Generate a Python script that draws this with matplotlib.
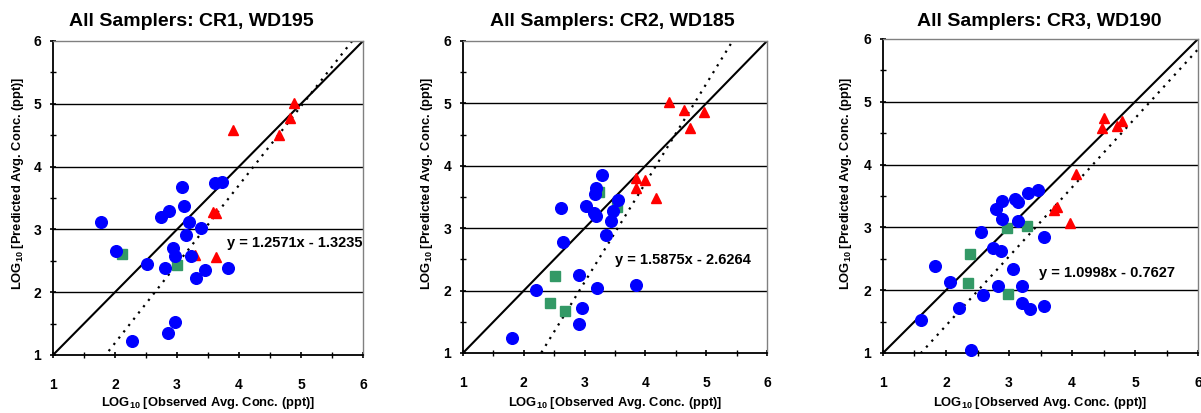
import matplotlib
matplotlib.use("Agg")
import matplotlib.pyplot as plt
from matplotlib.ticker import MultipleLocator

plt.rcParams['font.family'] = ['Liberation Sans', 'DejaVu Sans']
plt.rcParams['font.weight'] = 'bold'
plt.rcParams['mathtext.fontset'] = 'custom'
plt.rcParams['mathtext.rm'] = 'Liberation Sans:bold'
plt.rcParams['mathtext.it'] = 'Liberation Sans:bold'
plt.rcParams['mathtext.bf'] = 'Liberation Sans:bold'

# ---------------- data ----------------
titles = ["All Samplers: CR1, WD195", "All Samplers: CR2, WD185", "All Samplers: CR3, WD190"]
slopes = [1.2571, 1.5875, 1.0998]
intercepts = [-1.3235, -2.6264, -0.7627]
equations = ["y = 1.2571x - 1.3235", "y = 1.5875x - 2.6264", "y = 1.0998x - 0.7627"]

# Panel 1 (CR1)
p1_circle_x = [1.77, 2.02, 2.52, 2.74, 2.87, 2.80, 2.93, 2.97, 3.08, 3.12, 3.19, 3.15, 3.22,
               3.38, 3.30, 3.45, 3.61, 3.73, 3.82, 2.85, 2.96, 2.28]
p1_circle_y = [3.12, 2.66, 2.45, 3.19, 3.30, 2.39, 2.71, 2.57, 3.68, 3.37, 3.11, 2.91, 2.58,
               3.03, 2.23, 2.35, 3.74, 3.76, 2.38, 1.35, 1.52, 1.22]
p1_square_x = [2.12, 3.00]
p1_square_y = [2.61, 2.43]
p1_tri_x = [4.89, 4.83, 4.64, 3.91, 3.58, 3.63, 3.29, 3.63]
p1_tri_y = [5.01, 4.77, 4.51, 4.59, 3.27, 3.26, 2.59, 2.56]

# Panel 2 (CR2)
p2_circle_x = [1.81, 2.20, 2.65, 2.62, 2.91, 2.95, 2.90, 3.20, 3.02, 3.17, 3.18, 3.16, 3.19,
               3.29, 3.35, 3.43, 3.47, 3.55, 3.85]
p2_circle_y = [1.24, 2.01, 2.78, 3.33, 2.25, 1.72, 1.47, 2.04, 3.36, 3.55, 3.64, 3.25, 3.19,
               3.85, 2.89, 3.11, 3.27, 3.45, 2.09]
p2_square_x = [2.52, 2.43, 2.68, 3.23, 3.54]
p2_square_y = [2.23, 1.80, 1.67, 3.58, 3.34]
p2_tri_x = [4.38, 4.64, 4.96, 4.73, 3.85, 4.00, 3.84, 4.17]
p2_tri_y = [5.03, 4.89, 4.86, 4.61, 3.81, 3.78, 3.65, 3.48]

# Panel 3 (CR3)
p3_circle_x = [1.61, 1.82, 2.06, 2.21, 2.39, 2.55, 2.58, 2.75, 2.88, 2.80, 2.89, 2.89, 2.83,
               3.06, 3.10, 3.14, 3.15, 3.21, 3.20, 3.33, 3.30, 3.46, 3.56, 3.56]
p3_circle_y = [1.53, 2.38, 2.13, 1.71, 1.05, 2.92, 1.93, 2.67, 2.62, 3.29, 3.42, 3.14, 2.07,
               2.34, 3.45, 3.41, 3.10, 2.07, 1.79, 1.70, 3.55, 3.60, 2.84, 1.75]
p3_square_x = [2.38, 2.35, 2.97, 3.28, 2.99]
p3_square_y = [2.58, 2.11, 2.99, 3.02, 1.94]
p3_tri_x = [4.50, 4.47, 4.71, 4.80, 4.06, 3.76, 3.72, 3.97]
p3_tri_y = [4.75, 4.58, 4.61, 4.70, 3.85, 3.33, 3.28, 3.07]

panels = [
    (p1_circle_x, p1_circle_y, p1_square_x, p1_square_y, p1_tri_x, p1_tri_y),
    (p2_circle_x, p2_circle_y, p2_square_x, p2_square_y, p2_tri_x, p2_tri_y),
    (p3_circle_x, p3_circle_y, p3_square_x, p3_square_y, p3_tri_x, p3_tri_y),
]

# ---------------- layout ----------------
W, H = 1201, 413
fig = plt.figure(figsize=(W / 100, H / 100), dpi=100)

# (left, right, top, bottom) in pixels
boxes = [(53, 363, 41, 355), (463, 767, 41, 353), (883, 1198, 39, 353)]
title_cx = [191, 612, 1039]
eq_pos = [(3.81, 2.78), (3.50, 2.49), (3.48, 2.28)]
ylab_x = [18, 427, 846]

for i, (box, pdata) in enumerate(zip(boxes, panels)):
    l, r, t, b = box
    ax = fig.add_axes([l / W, (H - b) / H, (r - l) / W, (b - t) / H])
    cx, cy, sx, sy, tx, ty = pdata
    ax.set_xlim(1, 6)
    ax.set_ylim(1, 6)

    for yv in [2, 3, 4, 5]:
        ax.axhline(yv, color='black', lw=1.0, zorder=1)

    ax.plot([1, 6], [1, 6], color='black', lw=1.5, zorder=2)
    ax.plot([1, 6], [slopes[i] * 1 + intercepts[i], slopes[i] * 6 + intercepts[i]],
            color='black', lw=1.6, linestyle=(0, (1, 2.6)), zorder=2)

    ax.plot(tx, ty, linestyle='none', marker='^', ms=7.5, color='#FF0000', mec='#FF0000',
            zorder=3, clip_on=False)
    ax.plot(sx, sy, linestyle='none', marker='s', ms=6.8, color='#339966', mec='#339966',
            zorder=4, clip_on=False)
    ax.plot(cx, cy, linestyle='none', marker='o', ms=8.4, color='#0000FF', mec='#0000FF',
            zorder=5, clip_on=False)

    ax.text(eq_pos[i][0], eq_pos[i][1], equations[i], fontsize=10.5, fontweight='bold',
            ha='left', va='center', zorder=6, clip_on=False)

    ax.xaxis.set_major_locator(MultipleLocator(1))
    ax.yaxis.set_major_locator(MultipleLocator(1))
    ax.xaxis.set_minor_locator(MultipleLocator(0.5))
    ax.yaxis.set_minor_locator(MultipleLocator(0.5))
    ax.tick_params(axis='x', which='major', direction='inout', length=5, width=1.2,
                   pad=14, labelsize=10)
    ax.tick_params(axis='y', which='major', direction='inout', length=5, width=1.2,
                   pad=6, labelsize=10)
    ax.tick_params(which='minor', direction='inout', length=5, width=1.0)
    for lab in ax.get_xticklabels() + ax.get_yticklabels():
        lab.set_fontweight('bold')

    ax.spines['left'].set_color('black')
    ax.spines['bottom'].set_color('black')
    ax.spines['left'].set_linewidth(1.3)
    ax.spines['bottom'].set_linewidth(1.3)
    ax.spines['top'].set_color('#808080')
    ax.spines['right'].set_color('#808080')
    ax.spines['top'].set_linewidth(1.0)
    ax.spines['right'].set_linewidth(1.0)

    fig.text(title_cx[i] / W, (H - 21) / H, titles[i], fontsize=14, fontweight='bold',
             ha='center', va='center')
    fig.text(((l + r) / 2) / W, (H - 403) / H, "LOG$_{10}$ [Observed Avg. Conc. (ppt)]",
             fontsize=9.3, fontweight='bold', ha='center', va='center')
    fig.text(ylab_x[i] / W, (H - 183) / H, "LOG$_{10}$ [Predicted Avg. Conc. (ppt)]",
             fontsize=9.3, fontweight='bold', ha='center', va='center', rotation=90)

fig.savefig("out.png", dpi=100)
